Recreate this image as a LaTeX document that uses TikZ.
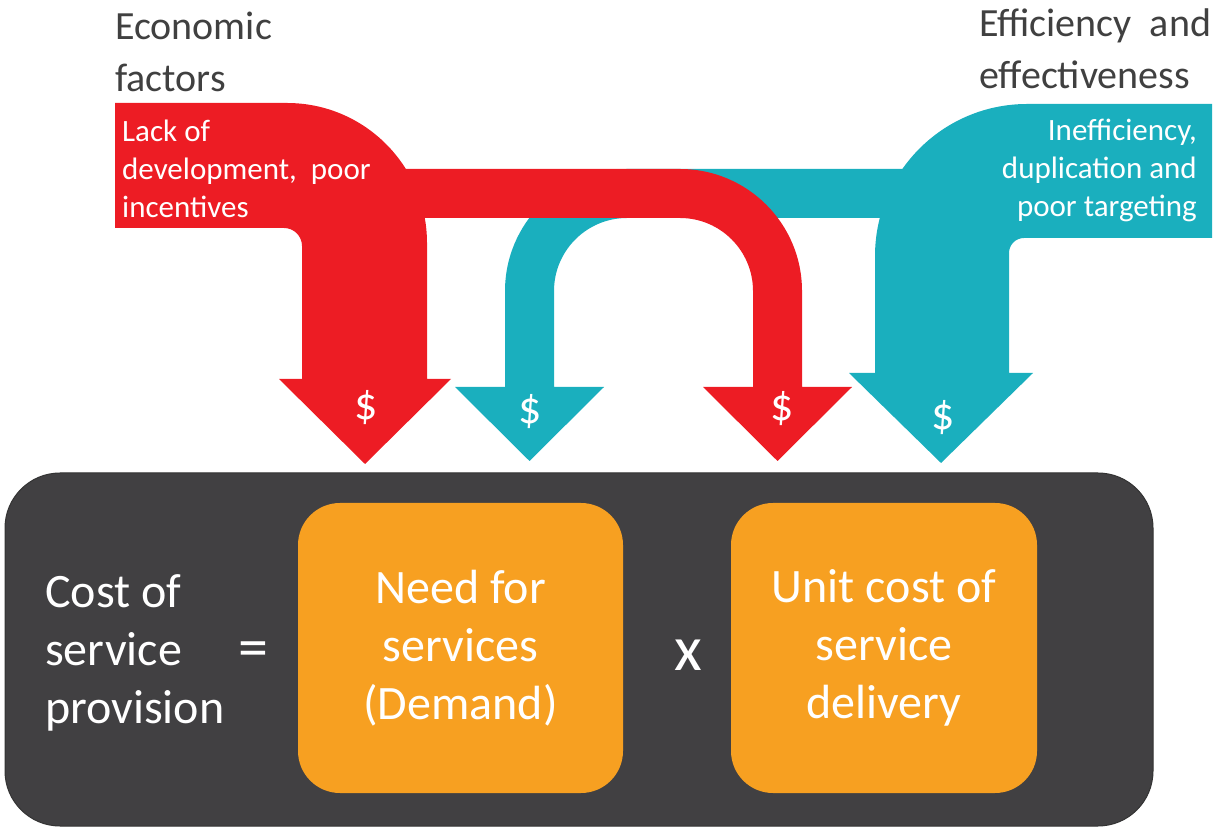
\documentclass[tikz,border=0pt]{standalone}
\usepackage{fontspec}
\setmainfont{Carlito}
\usepackage{tikz}
\usetikzlibrary{positioning}
\definecolor{econred}{HTML}{ED1C24}
\definecolor{effteal}{HTML}{1AAFBE}
\definecolor{costgray}{HTML}{414042}
\definecolor{boxorange}{HTML}{F7A021}
\definecolor{titlegray}{HTML}{404040}

\begin{document}
\begin{tikzpicture}[x=1pt, y=1pt,
    title/.style={text=titlegray, inner sep=0pt, align=left, font=\fontsize{40}{52}\selectfont},
    cause/.style={text=white, inner sep=0pt, font=\fontsize{31}{38}\selectfont},
    dollar/.style={text=white, inner sep=0pt, font=\fontsize{46}{52}\selectfont},
    big/.style={text=white, inner sep=0pt, font=\fontsize{48}{58}\selectfont},
    factor/.style={big, fill=boxorange, rounded corners=42pt, align=center}]
    \useasboundingbox (0,0) rectangle (1222,827);

    % Cost box
    \node[fill=costgray, draw=black!80, line width=1pt, rounded corners=55pt,
        minimum width=1148, minimum height=353, inner sep=0pt] (cost) at (579,177.5) {};
    \node[factor, minimum width=325, minimum height=290] (need) at (460.5,179) {Need for\\services\\(Demand)};
    \node[factor, minimum width=306, minimum height=290] (unit) at (884,179) {Unit cost of\\service\\delivery};
    \node[big, anchor=west, align=left] (costtxt) at (45,174) {Cost of\\service\\provision};
    \node[big, font=\fontsize{60}{60}\selectfont] (eq) at (253,172) {=};
    \node[big, font=\fontsize{64}{64}\selectfont] (times) at (688,172) {x};

    % Efficiency arrow, thin branch (under the red one)
    \fill[effteal] (960,658) -- (627,658) arc[start angle=90, end angle=180, radius=122]
        -- (505,440) -- (455,440) -- (529.5,366) -- (604,440) -- (554,440) -- (554,536)
        arc[start angle=180, end angle=90, radius=73] -- (960,609) -- cycle;
    % Economic arrow, thin branch
    \fill[econred] (350,658) -- (680,658) arc[start angle=90, end angle=0, radius=122]
        -- (802,440) -- (852,440) -- (777.5,366) -- (703,440) -- (753,440) -- (753,536)
        arc[start angle=0, end angle=90, radius=73] -- (350,609) -- cycle;
    % Economic arrow, main
    \fill[econred] (115,724) -- (287,724) arc[start angle=90, end angle=0, radius=140]
        -- (427,448) -- (451,448) -- (365,363) -- (279,448) -- (302,448) -- (302,581)
        arc[start angle=0, end angle=90, radius=18] -- (115,599) -- cycle;
    % Efficiency arrow, main
    \fill[effteal] (1212,723) -- (1027,723) arc[start angle=90, end angle=180, radius=152]
        -- (875,454) -- (849,454) -- (941,364) -- (1033,454) -- (1009,454) -- (1009,574)
        arc[start angle=180, end angle=90, radius=15] -- (1212,589) -- cycle;

    % Labels
    \node[title, anchor=north west] (econ) at (115,815) {Economic\\factors};
    \node[title, anchor=north west] (eff) at (979,818) {Efficiency \ and\\effectiveness};
    \node[cause, anchor=west, align=left] (lack) at (122,658) {Lack of\\development, \ poor\\incentives};
    \node[cause, anchor=east, align=right] (ineff) at (1197,656.5) {Inefficiency,\\duplication and\\poor targeting};

    % Dollar signs
    \node[dollar] (d1) at (366,419) {\$};
    \node[dollar] (d2) at (530,415) {\$};
    \node[dollar] (d3) at (782,418) {\$};
    \node[dollar] (d4) at (943,409) {\$};
\end{tikzpicture}
\end{document}
